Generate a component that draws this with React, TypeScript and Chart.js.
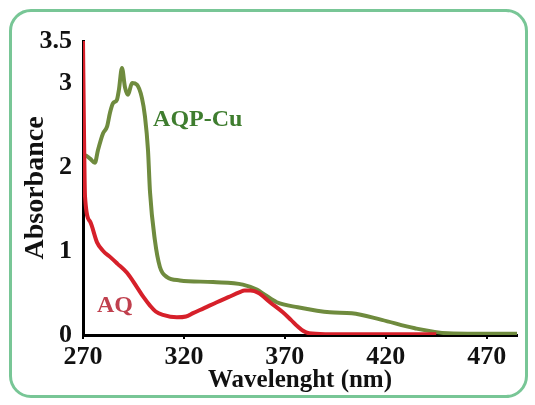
import React, { useEffect, useRef } from "react";
import { Chart, registerables } from "chart.js";

Chart.register(...registerables);

const aqpCuWavelength = [270, 271, 273.5, 275.9, 277.4, 279.9, 281.9, 283.4, 284.9, 286.8, 287.8, 289.3, 290.8, 292.3, 294.3, 296.7, 299.2, 300.7, 302.2, 303.2, 305.6, 308.1, 311.6, 318, 334.4, 349.2, 356.1, 360, 366, 376.4, 392.3, 403.2, 418, 434.4, 450.7, 465, 485];
const aqpCuAbsorbance = [2.12, 2.14, 2.1, 2.05, 2.2, 2.4, 2.48, 2.65, 2.76, 2.8, 2.92, 3.18, 2.95, 2.86, 3.0, 2.98, 2.82, 2.6, 2.2, 1.7, 1.13, 0.81, 0.69, 0.65, 0.63, 0.6, 0.54, 0.48, 0.39, 0.33, 0.27, 0.26, 0.18, 0.08, 0.02, 0.015, 0.015];

const aqWavelength = [270, 270.5, 271, 273.5, 277, 280, 283.4, 287, 291.8, 296.7, 300, 303.2, 306, 309.6, 316.5, 321, 324.5, 330, 336.3, 342, 347.7, 350, 353, 357, 362.6, 369, 373, 376.4, 379, 382, 390, 445];
const aqAbsorbance = [3.5, 2.4, 1.65, 1.35, 1.1, 1.0, 0.93, 0.85, 0.74, 0.57, 0.45, 0.35, 0.28, 0.24, 0.21, 0.22, 0.26, 0.32, 0.39, 0.45, 0.51, 0.53, 0.53, 0.5, 0.39, 0.27, 0.18, 0.1, 0.05, 0.02, 0.01, 0.01];

const xTickValues = [270, 320, 370, 420, 470];
const yTickValues = [0, 1, 2, 3, 3.5];

const seriesLabels = ["AQ", "AQP-Cu"];
const labelPositions = [
  { text: "AQP-Cu", x: 304.7, y: 2.56, color: "#3f7d2f" },
  { text: "AQ", x: 276.9, y: 0.35, color: "#c0404e" },
];

const FONT = "'Liberation Serif', 'Times New Roman', serif";

const labelPlugin = {
  id: "seriesLabels",
  afterDatasetsDraw(chart: any) {
    const { ctx, scales } = chart;
    ctx.save();
    ctx.font = `bold 24px ${FONT}`;
    ctx.textAlign = "left";
    ctx.textBaseline = "middle";
    for (const l of labelPositions) {
      ctx.fillStyle = l.color;
      ctx.fillText(l.text, scales.x.getPixelForValue(l.x), scales.y.getPixelForValue(l.y));
    }
    ctx.restore();
  },
};

export default function App() {
  const ref = useRef<HTMLCanvasElement>(null);
  useEffect(() => {
    if (!ref.current) return;
    const toPts = (xs: number[], ys: number[]) => xs.map((x, i) => ({ x, y: ys[i] }));
    const chart = new Chart(ref.current, {
      type: "line",
      data: {
        datasets: [
          {
            label: seriesLabels[0],
            data: toPts(aqWavelength, aqAbsorbance),
            borderColor: "#d6202a",
            borderWidth: 4,
            pointRadius: 0,
            cubicInterpolationMode: "monotone",
          },
          {
            label: seriesLabels[1],
            data: toPts(aqpCuWavelength, aqpCuAbsorbance),
            borderColor: "#6f8b3e",
            borderWidth: 4,
            pointRadius: 0,
            cubicInterpolationMode: "monotone",
          },
        ],
      },
      options: {
        animation: false,
        responsive: true,
        maintainAspectRatio: false,
        layout: { padding: { left: 0, top: 41, right: 18, bottom: 0 } },
        plugins: { legend: { display: false }, tooltip: { enabled: false } },
        scales: {
          x: {
            type: "linear",
            min: 270,
            max: 485,
            afterBuildTicks: (s: any) => {
              s.ticks = xTickValues.map((v) => ({ value: v }));
            },
            afterFit: (s: any) => {
              s.height = 70;
            },
            grid: { display: true, drawOnChartArea: false, drawTicks: true, tickLength: 4, color: "#000", lineWidth: 2 },
            border: { display: true, color: "#000", width: 3 },
            ticks: { color: "#111", padding: 3, maxRotation: 0, font: { family: FONT, size: 26, weight: "bold" } },
            title: {
              display: true,
              text: "Wavelenght (nm)",
              color: "#111",
              padding: { top: 0, bottom: 9 },
              font: { family: FONT, size: 25, weight: "bold" },
            },
          },
          y: {
            min: 0,
            max: 3.5,
            afterBuildTicks: (s: any) => {
              s.ticks = yTickValues.map((v) => ({ value: v }));
            },
            afterFit: (s: any) => {
              s.width = 83;
            },
            grid: { display: false, drawTicks: false },
            border: { display: true, color: "#000", width: 3 },
            ticks: {
              color: "#111",
              padding: 11,
              font: { family: FONT, size: 26, weight: "bold" },
              callback: (v: any) => String(v),
            },
            title: {
              display: true,
              text: "Absorbance",
              color: "#111",
              padding: { top: 19, bottom: 0 },
              font: { family: FONT, size: 28, weight: "bold" },
            },
          },
        },
      } as any,
      plugins: [labelPlugin],
    });
    return () => chart.destroy();
  }, []);

  return (
    <div style={{ position: "absolute", left: 0, top: 0, width: 535, height: 405, background: "#fff" }}>
      <div
        style={{
          position: "absolute",
          left: 9,
          top: 9,
          width: 513,
          height: 383,
          border: "3px solid #78c696",
          borderRadius: 22,
          pointerEvents: "none",
        }}
      />
      <canvas ref={ref} style={{ position: "absolute", left: 0, top: 0, width: 535, height: 405 }} />
    </div>
  );
}
